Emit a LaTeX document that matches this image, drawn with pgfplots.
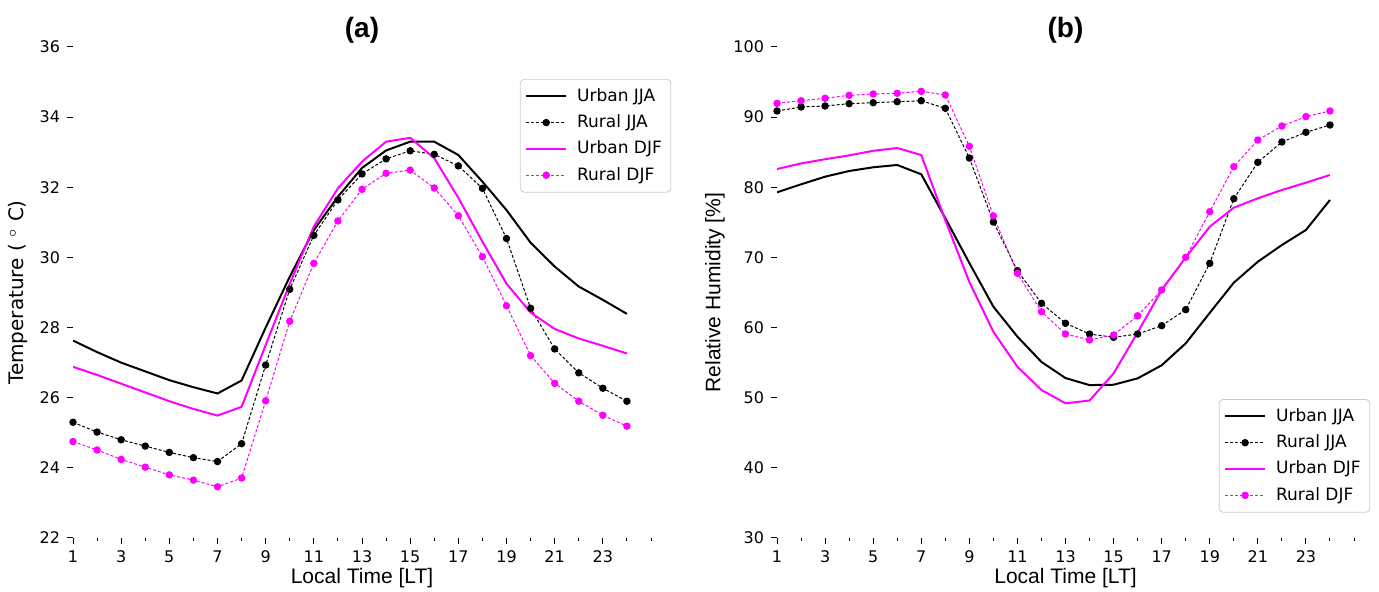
\documentclass[border=0pt]{standalone}
\usepackage{pgfplots}
\pgfplotsset{compat=1.18}
\usepackage{fontspec}
\setmainfont{DejaVu Sans}
\newfontfamily\labfont{Liberation Sans}
\definecolor{mag}{RGB}{255,0,255}

\pgfplotsset{
  panel/.style={
    scale only axis, width=289pt, height=245.5pt,
    xmin=1, xmax=25, enlargelimits=false,
    axis line style={draw=none},
    tick align=outside, xtick pos=lower, ytick pos=left,
    xtick={1,3,...,23}, minor xtick={2,4,...,24,25},
    major tick length=3pt, minor tick length=1.6pt,
    tick style={black, line width=0.5pt},
    /pgf/number format/assume math mode=true,
    tick label style={font=\fontsize{8}{9}\selectfont},
    xlabel style={font=\labfont\fontsize{10.5}{12}\selectfont, at={(axis description cs:0.5,-0.082)}, anchor=center},
    title style={font=\labfont\bfseries\fontsize{14}{16}\selectfont, yshift=-7.5pt},
    legend style={draw=black!20, rounded corners=2pt, fill=white,
      font=\fontsize{8.5}{10}\selectfont, row sep=1.2pt, inner sep=2.5pt,
      /tikz/every odd column/.style={column sep=3pt}},
    legend cell align=left,
    legend image code/.code={\draw[mark repeat=2, mark phase=2] plot coordinates {(0cm,0cm) (0.35cm,0cm) (0.7cm,0cm)};},
  },
  urb/.style={line width=1pt, no marks},
  rur/.style={line width=0.5pt, dash pattern=on 1.5pt off 1pt, mark=*, mark size=1.6pt, mark options={solid}},
}

\begin{document}
\begin{tikzpicture}
\path[use as bounding box] (0,0) rectangle (689.5pt,296pt);

\begin{axis}[panel, at={(36.5pt,27pt)}, anchor=south west,
  ymin=22, ymax=36, ytick={22,24,...,36},
  title={(a)}, xlabel={Local Time [LT]},
  ylabel={Temperature ( $^\circ$ C)},
  ylabel style={font=\fontsize{10}{12}\selectfont, at={(axis description cs:-0.095,0.5)}, anchor=center},
  legend style={at={(1.035,0.935)}, anchor=north east},
]
\addplot[urb, black] coordinates {(1,27.63)(2,27.30)(3,27.00)(4,26.75)(5,26.50)(6,26.30)(7,26.12)(8,26.49)(9,28.00)(10,29.45)(11,30.78)(12,31.73)(13,32.55)(14,33.05)(15,33.30)(16,33.30)(17,32.92)(18,32.16)(19,31.35)(20,30.42)(21,29.74)(22,29.17)(23,28.79)(24,28.39)};
\addlegendentry{Urban JJA}
\addplot[rur, black] coordinates {(1,25.30)(2,25.02)(3,24.80)(4,24.62)(5,24.44)(6,24.29)(7,24.18)(8,24.69)(9,26.93)(10,29.09)(11,30.63)(12,31.64)(13,32.38)(14,32.81)(15,33.04)(16,32.94)(17,32.61)(18,31.97)(19,30.54)(20,28.55)(21,27.39)(22,26.71)(23,26.27)(24,25.90)};
\addlegendentry{Rural JJA}
\addplot[urb, mag] coordinates {(1,26.88)(2,26.65)(3,26.40)(4,26.15)(5,25.90)(6,25.68)(7,25.49)(8,25.74)(9,27.50)(10,29.25)(11,30.88)(12,31.97)(13,32.73)(14,33.30)(15,33.41)(16,32.83)(17,31.70)(18,30.45)(19,29.25)(20,28.43)(21,27.96)(22,27.69)(23,27.48)(24,27.26)};
\addlegendentry{Urban DJF}
\addplot[rur, mag] coordinates {(1,24.75)(2,24.51)(3,24.24)(4,24.02)(5,23.80)(6,23.65)(7,23.46)(8,23.71)(9,25.91)(10,28.18)(11,29.83)(12,31.04)(13,31.94)(14,32.40)(15,32.49)(16,31.98)(17,31.19)(18,30.02)(19,28.62)(20,27.20)(21,26.41)(22,25.90)(23,25.50)(24,25.19)};
\addlegendentry{Rural DJF}
\end{axis}

\begin{axis}[panel, at={(388.5pt,27pt)}, anchor=south west, width=288.5pt,
  ymin=30, ymax=100, ytick={30,40,...,100},
  title={(b)}, xlabel={Local Time [LT]},
  ylabel={Relative Humidity [\%]},
  ylabel style={font=\labfont\fontsize{10.5}{12}\selectfont, at={(axis description cs:-0.1075,0.5)}, anchor=center},
  legend style={at={(1.028,0.283)}, anchor=north east},
]
\addplot[urb, black] coordinates {(1,79.28)(2,80.42)(3,81.51)(4,82.32)(5,82.85)(6,83.18)(7,81.85)(8,75.60)(9,69.20)(10,62.98)(11,58.70)(12,55.10)(13,52.80)(14,51.80)(15,51.85)(16,52.76)(17,54.62)(18,57.75)(19,62.10)(20,66.40)(21,69.39)(22,71.77)(23,73.91)(24,78.19)};
\addlegendentry{Urban JJA}
\addplot[rur, black] coordinates {(1,90.88)(2,91.45)(3,91.59)(4,91.92)(5,92.06)(6,92.20)(7,92.34)(8,91.26)(9,84.17)(10,75.05)(11,68.11)(12,63.46)(13,60.61)(14,59.08)(15,58.61)(16,59.08)(17,60.27)(18,62.55)(19,69.16)(20,78.37)(21,83.56)(22,86.46)(23,87.84)(24,88.88)};
\addlegendentry{Rural JJA}
\addplot[urb, mag] coordinates {(1,82.60)(2,83.40)(3,84.00)(4,84.55)(5,85.20)(6,85.60)(7,84.60)(8,75.30)(9,66.50)(10,59.40)(11,54.40)(12,51.10)(13,49.20)(14,49.60)(15,53.47)(16,59.30)(17,65.36)(18,70.00)(19,74.38)(20,77.09)(21,78.43)(22,79.61)(23,80.66)(24,81.75)};
\addlegendentry{Urban DJF}
\addplot[rur, mag] coordinates {(1,91.97)(2,92.34)(3,92.69)(4,93.11)(5,93.30)(6,93.40)(7,93.68)(8,93.16)(9,85.84)(10,75.91)(11,67.74)(12,62.26)(13,59.08)(14,58.23)(15,58.94)(16,61.68)(17,65.36)(18,70.01)(19,76.52)(20,82.93)(21,86.74)(22,88.74)(23,90.07)(24,90.88)};
\addlegendentry{Rural DJF}
\end{axis}
\end{tikzpicture}
\end{document}
